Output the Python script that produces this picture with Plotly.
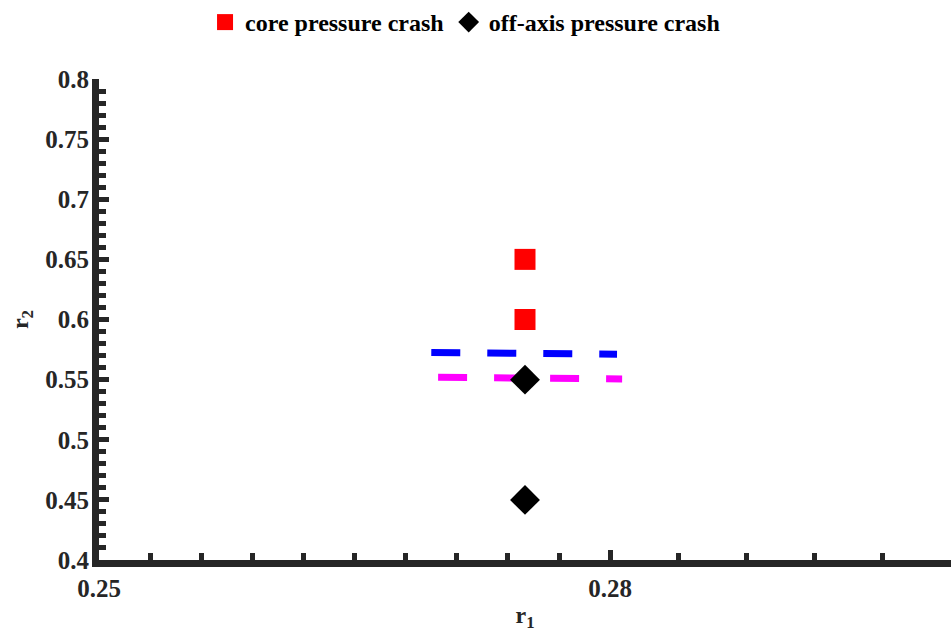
import plotly.graph_objects as go

# data
core_r1 = [0.275, 0.275]
core_r2 = [0.65, 0.60]
off_r1 = [0.275, 0.275]
off_r2 = [0.55, 0.45]
blue_r1 = [0.2695, 0.2804]
blue_r2 = [0.5725, 0.5711]
mag_r1 = [0.2699, 0.2807]
mag_r2 = [0.5519, 0.5506]

x_major = [0.25, 0.28]
x_major_text = ["0.25", "0.28"]
x_minor = [0.253, 0.256, 0.259, 0.262, 0.265, 0.268, 0.271, 0.274, 0.277,
           0.284, 0.288, 0.292, 0.296]
y_major = [0.4, 0.45, 0.5, 0.55, 0.6, 0.65, 0.7, 0.75, 0.8]
y_major_text = ["0.4", "0.45", "0.5", "0.55", "0.6", "0.65", "0.7", "0.75", "0.8"]
y_minor = [0.41, 0.42, 0.43, 0.44, 0.46, 0.47, 0.48, 0.49, 0.51, 0.52, 0.53, 0.54,
           0.56, 0.57, 0.58, 0.59, 0.61, 0.62, 0.63, 0.64, 0.66, 0.67, 0.68, 0.69,
           0.71, 0.72, 0.73, 0.74, 0.76, 0.77, 0.78, 0.79]

AX = "#262626"
FONT = "Liberation Serif"

fig = go.Figure()
fig.add_trace(go.Scatter(x=blue_r1, y=blue_r2, mode="lines", showlegend=False,
                         line=dict(color="#0000ff", width=7, dash="29px,27px")))
fig.add_trace(go.Scatter(x=mag_r1, y=mag_r2, mode="lines", showlegend=False,
                         line=dict(color="#ff00ff", width=7, dash="29px,27px")))
fig.add_trace(go.Scatter(x=core_r1, y=core_r2, mode="markers",
                         name="<b>core pressure crash</b>",
                         marker=dict(symbol="square", size=21, color="#ff0000")))
fig.add_trace(go.Scatter(x=off_r1, y=off_r2, mode="markers",
                         name="<b>off-axis pressure crash</b>",
                         marker=dict(symbol="diamond", size=23, color="#000000")))

fig.update_layout(
    width=951, height=643,
    margin=dict(l=99, r=0, t=79, b=83),
    plot_bgcolor="white", paper_bgcolor="white",
    font=dict(family=FONT, size=25, color=AX),
    legend=dict(orientation="h", xref="container", x=0.489, xanchor="center",
                yref="container", y=1.0, yanchor="top",
                font=dict(family=FONT, size=24, color="#000000"),
                itemwidth=30, tracegroupgap=0),
)
fig.update_xaxes(
    range=[0.25, 0.30], showgrid=False, zeroline=False,
    showline=True, linecolor=AX, linewidth=7,
    tickmode="array", tickvals=x_major, ticktext=["<b>%s</b>" % t for t in x_major_text],
    ticks="inside", ticklen=10, tickwidth=5, tickcolor=AX,
    tickfont=dict(size=25, color=AX),
    minor=dict(tickmode="array", tickvals=x_minor, ticks="inside", ticklen=7,
               tickwidth=5, tickcolor=AX, showgrid=False),
    title=dict(text="<b>r<sub>1</sub></b>", font=dict(size=24, color=AX), standoff=8),
)
fig.update_yaxes(
    range=[0.4, 0.8], showgrid=False, zeroline=False,
    showline=True, linecolor=AX, linewidth=7,
    tickmode="array", tickvals=y_major, ticktext=["<b>%s</b>" % t for t in y_major_text],
    ticks="inside", ticklen=10, tickwidth=5, tickcolor=AX,
    tickfont=dict(size=25, color=AX), ticklabelstandoff=-2,
    minor=dict(tickmode="array", tickvals=y_minor, ticks="inside", ticklen=7,
               tickwidth=5, tickcolor=AX, showgrid=False),
    title=dict(text="<b>r<sub>2</sub></b>", font=dict(size=24, color=AX), standoff=12),
)

fig.write_html("out.html")
